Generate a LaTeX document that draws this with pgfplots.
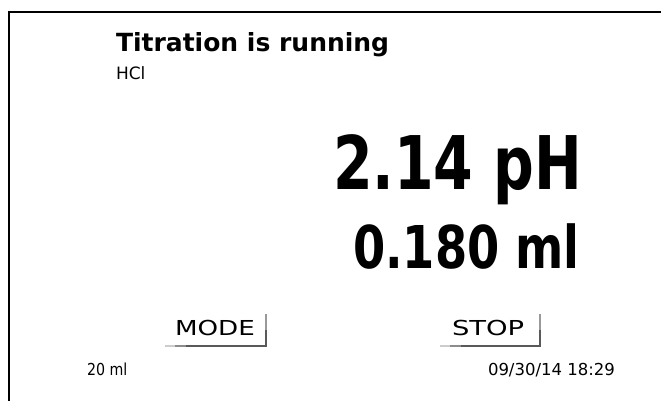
\documentclass[border=0pt]{standalone}
\usepackage{pgfplots}
\pgfplotsset{compat=1.18}
\usepackage{graphicx}
\usepackage{fontspec}
\setmainfont{DejaVu Sans}
\newcommand{\txt}[3]{\fontsize{#1}{#1}\selectfont\scalebox{#2}[1]{#3}}
\tikzset{lbl/.style={anchor=base west, inner sep=0pt, outer sep=0pt}}
\begin{document}
\begin{tikzpicture}
\begin{axis}[
  scale only axis, width=661pt, height=401pt,
  xmin=0, xmax=661, ymin=0, ymax=401, y dir=reverse,
  hide axis, axis background/.style={fill=white},
]
% display frame
\addplot[black, line width=2pt, line join=miter] coordinates {(9,402) (9,12) (662,12)};
% button shadows (MODE)
\addplot[black!20, line width=2pt] coordinates {(165,346) (175,346)};
\addplot[black!45, line width=2pt] coordinates {(175,346) (186,346)};
\addplot[black!65, line width=2pt] coordinates {(186,346) (266,346) (266,330)};
\addplot[black!40, line width=2pt] coordinates {(266,330) (266,314)};
% button shadows (STOP)
\addplot[black!20, line width=2pt] coordinates {(440,346) (450,346)};
\addplot[black!45, line width=2pt] coordinates {(450,346) (461,346)};
\addplot[black!65, line width=2pt] coordinates {(461,346) (540,346) (540,330)};
\addplot[black!40, line width=2pt] coordinates {(540,330) (540,314)};
\node[lbl] at (axis cs:116,52) {\bfseries\txt{25}{1.0}{Titration is running}};
\node[lbl] at (axis cs:116,80) {\txt{17}{1.0}{HCl}};
\node[lbl] at (axis cs:333,189) {\bfseries\txt{74}{0.77}{2.14 pH}};
\node[lbl] at (axis cs:353,268) {\bfseries\txt{59}{0.785}{0.180 ml}};
\node[lbl] at (axis cs:175,335) {\txt{20.6}{1.27}{MODE}};
\node[lbl] at (axis cs:452,335) {\txt{20.6}{1.33}{STOP}};
\node[lbl] at (axis cs:87,375) {\txt{16.5}{0.86}{20 ml}};
\node[lbl] at (axis cs:488,375) {\txt{16.5}{1.0}{09/30/14 18:29}};
\end{axis}
\end{tikzpicture}
\end{document}
